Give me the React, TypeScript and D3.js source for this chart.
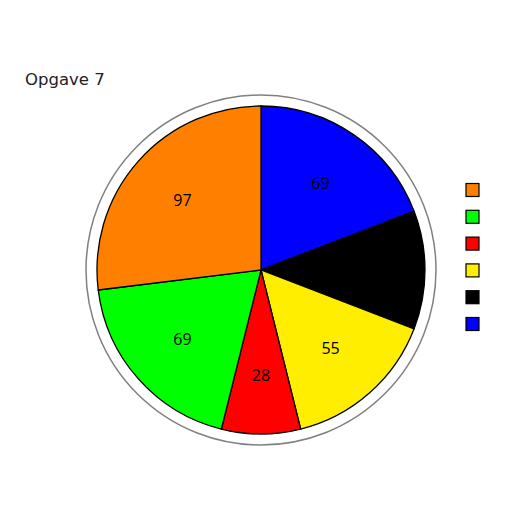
import React, { useEffect, useRef } from 'react';
import * as d3 from 'd3';

const title = 'Opgave 7';
const categories = ['blue', 'black', 'yellow', 'red', 'green', 'orange'];
const values = [69, 42, 55, 28, 69, 97];
const colors = ['#0000ff', '#000000', '#ffee00', '#ff0000', '#00ff00', '#ff8000'];
const legendOrder = ['orange', 'green', 'red', 'yellow', 'black', 'blue'];

const width = 512;
const height = 512;

const App = () => {
    const svgRef = useRef<SVGSVGElement>(null);

    useEffect(() => {
        const svg = d3.select(svgRef.current);
        svg.selectAll('*').remove();

        const cx = 261;
        const cy = 270;
        const radius = 164;

        svg.append('text')
            .attr('x', 25)
            .attr('y', 85)
            .attr('font-family', '"DejaVu Sans", sans-serif')
            .attr('font-size', 16.5)
            .attr('fill', '#222')
            .text(title);

        const g = svg.append('g').attr('transform', `translate(${cx},${cy})`);

        // outer ring
        g.append('circle')
            .attr('r', radius + 11)
            .attr('fill', 'white')
            .attr('stroke', '#808080')
            .attr('stroke-width', 1.5);

        const data = categories.map((c, i) => ({ name: c, value: values[i], color: colors[i] }));

        const pie = d3.pie<any>().value(d => d.value).sort(null);
        const arc = d3.arc<any>().innerRadius(0).outerRadius(radius);
        const labelArc = d3.arc<any>().innerRadius(0).outerRadius(radius * 1.28);

        const arcs = pie(data);

        g.selectAll('.slice')
            .data(arcs)
            .enter()
            .append('path')
            .attr('class', 'slice')
            .attr('d', arc)
            .attr('fill', d => d.data.color)
            .attr('stroke', '#000')
            .attr('stroke-width', 1.3);

        g.selectAll('.label')
            .data(arcs)
            .enter()
            .append('text')
            .attr('class', 'label')
            .attr('transform', d => `translate(${labelArc.centroid(d)})`)
            .attr('text-anchor', 'middle')
            .attr('dy', '0.35em')
            .attr('font-family', '"Open Sans", "Noto Sans", sans-serif')
            .attr('font-size', 16)
            .attr('fill', '#000')
            .text(d => d.data.value);

        // legend
        const legendY = d3.scalePoint()
            .domain(legendOrder)
            .range([190, 324]);

        const legend = svg.append('g');
        legendOrder.forEach(name => {
            const i = categories.indexOf(name);
            legend.append('rect')
                .attr('x', 466)
                .attr('y', legendY(name)! - 6.5)
                .attr('width', 13)
                .attr('height', 13)
                .attr('fill', colors[i])
                .attr('stroke', '#000')
                .attr('stroke-width', 1.2);
        });
    }, []);

    return <svg ref={svgRef} width={width} height={height} style={{ position: 'absolute', left: 0, top: 0 }} />;
};

export default App;
